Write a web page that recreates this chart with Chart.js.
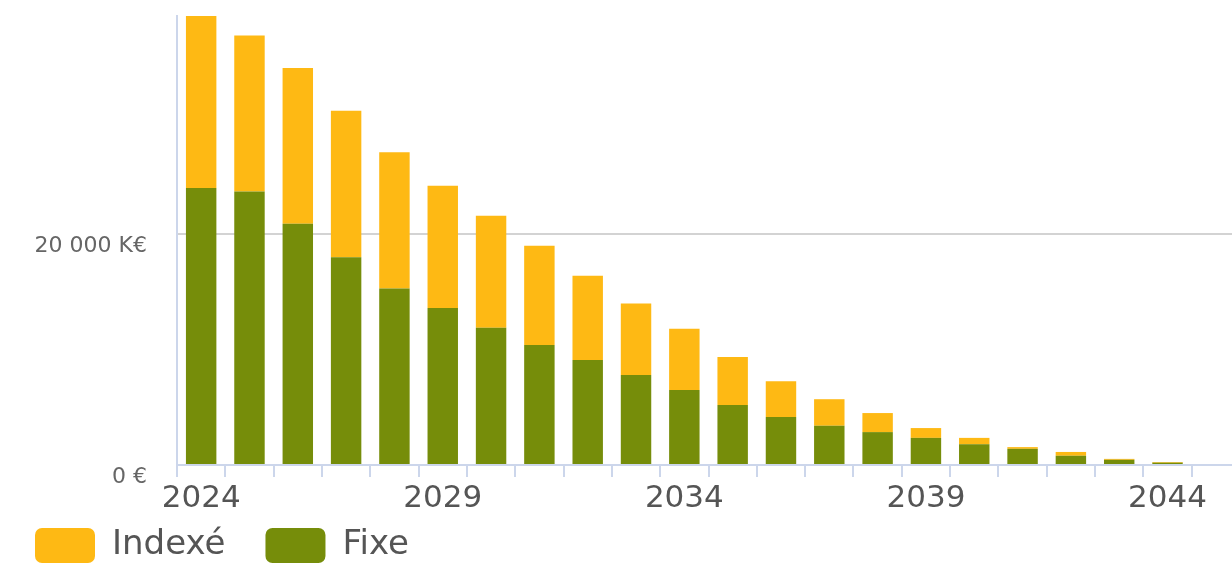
<!DOCTYPE html>
<html lang="fr">
<head>
<meta charset="utf-8">
<title>Encours de dette</title>
<script src="https://cdn.jsdelivr.net/npm/chart.js@4"></script>
<style>
  html, body { margin: 0; padding: 0; background: #fff; overflow: hidden; }
  #wrap { position: relative; width: 1240px; height: 605px; }
</style>
</head>
<body>
<div id="wrap"><canvas id="debtChart"></canvas></div>
<script>
// Years on the axis (the last one is the empty slot the axis runs into)
const years = [2024, 2025, 2026, 2027, 2028, 2029, 2030, 2031, 2032, 2033, 2034,
               2035, 2036, 2037, 2038, 2039, 2040, 2041, 2042, 2043, 2044, 2045];

// Outstanding amounts in K€
const fixe   = [24000, 23700, 20900, 18000, 15300, 13600, 11900, 10400, 9100, 7800, 6500,
                5200, 4150, 3400, 2850, 2350, 1800, 1400, 800, 450, 200, null];
const indexe = [14900, 13500, 13500, 12700, 11800, 10600, 9700, 8600, 7300, 6200, 5300,
                4150, 3100, 2300, 1650, 850, 550, 150, 330, 80, 60, null];

const yTicks = [0, 20000];
const yMax = 38900;

const FONT = 'DejaVu Sans';
const AXIS_BLUE = '#ccd6eb';

function formatAmount(v) {
    if (v === 0) return '0 €';
    return String(v).replace(/\B(?=(\d{3})+(?!\d))/g, ' ') + ' K€';
}

// The legend sits a little closer to the axis labels than Chart.js stacks it
const legendLift = {
    id: 'legendLift',
    afterLayout(chart) {
        const lg = chart.legend;
        if (!lg) return;
        const h = lg.bottom - lg.top;
        lg.top = chart.chartArea.bottom + 23;
        lg.bottom = lg.top + h;
    }
};

const ctx = document.getElementById('debtChart').getContext('2d');
new Chart(ctx, {
    type: 'bar',
    data: {
        labels: years,
        datasets: [
            {
                label: 'Fixe',
                data: fixe,
                backgroundColor: '#768d0a',
                borderWidth: 0
            },
            {
                label: 'Indexé',
                data: indexe,
                backgroundColor: '#feb914',
                borderWidth: 0
            }
        ]
    },
    plugins: [legendLift],
    options: {
        responsive: true,
        maintainAspectRatio: false,
        animation: false,
        layout: { padding: { top: 16, left: -5, right: 0, bottom: 0 } },
        datasets: { bar: { categoryPercentage: 1, barPercentage: 0.63 } },
        scales: {
            x: {
                stacked: true,
                border: { display: true, color: AXIS_BLUE, width: 2 },
                grid: {
                    offset: true,
                    drawOnChartArea: false,
                    drawTicks: true,
                    tickLength: 12,
                    color: AXIS_BLUE,
                    lineWidth: 2
                },
                ticks: {
                    autoSkip: false,
                    maxRotation: 0,
                    padding: 6,
                    color: '#555',
                    font: { family: FONT, size: 31, lineHeight: 1 },
                    callback: (v, i) => (i % 5 === 0 ? String(years[i]) : '')
                }
            },
            y: {
                stacked: true,
                min: 0,
                max: yMax,
                border: { display: true, color: AXIS_BLUE, width: 2 },
                grid: {
                    drawTicks: false,
                    lineWidth: 2,
                    color: c => (c.tick && c.tick.value === 20000 ? '#d3d3d3' : 'rgba(0,0,0,0)')
                },
                ticks: {
                    padding: 30,
                    labelOffset: 12,
                    color: '#666',
                    font: { family: FONT, size: 22 },
                    callback: v => formatAmount(v)
                },
                afterBuildTicks: scale => { scale.ticks = yTicks.map(v => ({ value: v })); },
                afterFit: scale => {
                    scale.width = 182;
                    scale.paddingTop = 0;
                    scale.paddingBottom = 0;
                }
            }
        },
        plugins: {
            tooltip: { enabled: false },
            legend: {
                position: 'bottom',
                align: 'start',
                reverse: true,
                labels: {
                    boxWidth: 60,
                    boxHeight: 35,
                    padding: 40,
                    useBorderRadius: true,
                    borderRadius: 7,
                    color: '#555',
                    font: { family: FONT, size: 34 }
                }
            }
        }
    }
});
</script>
</body>
</html>
